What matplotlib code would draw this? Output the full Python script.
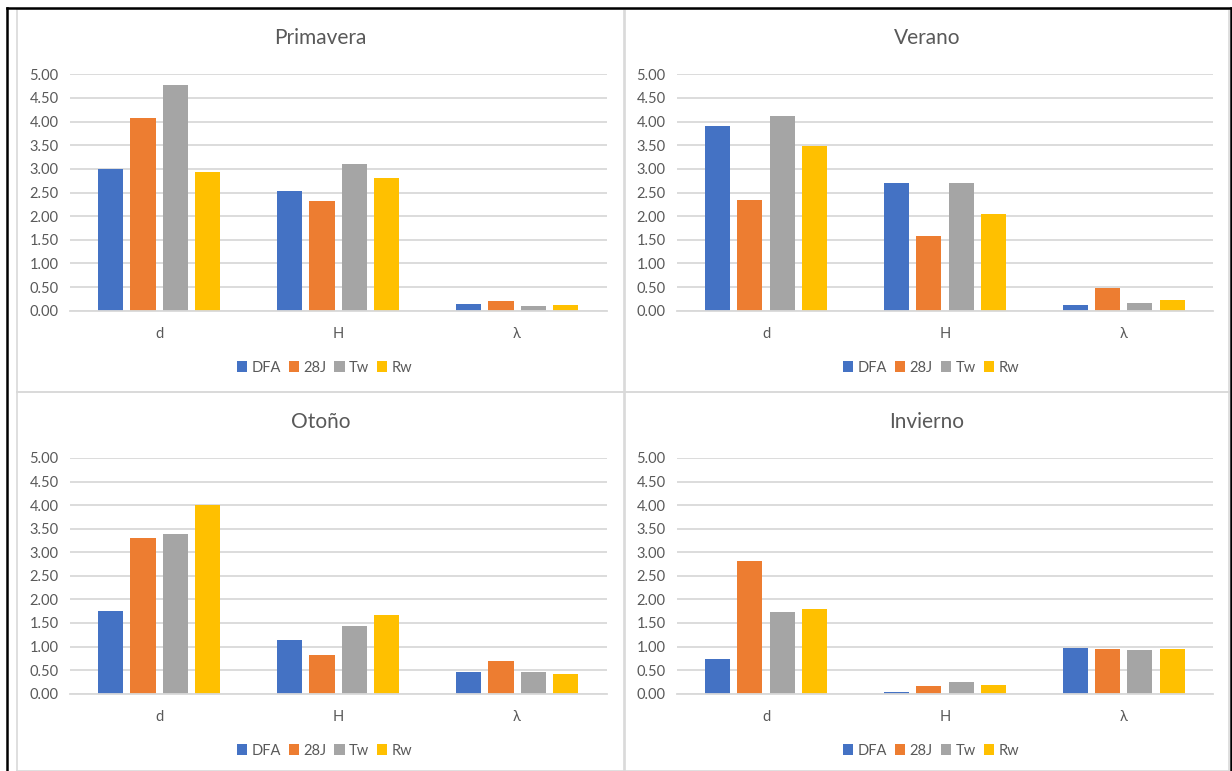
import numpy as np
import matplotlib
matplotlib.use('Agg')
import matplotlib.pyplot as plt
from matplotlib.lines import Line2D

plt.rcParams['font.family'] = ['Lato', 'DejaVu Sans']

# Datos por estación
categorias = ['d', 'H', 'λ']
series = ['DFA', '28J', 'Tw', 'Rw']
colores = ['#4472C4', '#ED7D31', '#A5A5A5', '#FFC000']

primavera = [[3.00, 2.53, 0.14],
             [4.08, 2.31, 0.21],
             [4.77, 3.10, 0.09],
             [2.93, 2.81, 0.13]]
verano = [[3.91, 2.70, 0.12],
          [2.34, 1.57, 0.47],
          [4.11, 2.70, 0.16],
          [3.49, 2.04, 0.23]]
otono = [[1.75, 1.14, 0.47],
         [3.30, 0.83, 0.70],
         [3.39, 1.43, 0.45],
         [4.00, 1.68, 0.42]]
invierno = [[0.74, 0.04, 0.98],
            [2.82, 0.16, 0.94],
            [1.73, 0.25, 0.93],
            [1.80, 0.19, 0.94]]

titulos = ['Primavera', 'Verano', 'Otoño', 'Invierno']
datos = [primavera, verano, otono, invierno]

W, H = 1232, 771
fig = plt.figure(figsize=(W / 100, H / 100), dpi=100)

gris_texto = '#595959'
gris_linea = '#D9D9D9'

# cajas de cada gráfico en pixeles: (x0, x1, y_top, y_bottom)
cajas = [(17, 624, 9, 392), (625, 1229, 9, 392),
         (17, 624, 392, 771), (625, 1229, 392, 771)]
# área de trazado en pixeles: (izq, der, arriba, abajo)
areas = [(69.6, 606.6, 74.3, 310.7), (676.6, 1213.3, 74.3, 310.7),
         (69.6, 606.6, 458, 693.7), (676.6, 1213.3, 458, 693.7)]

x = np.arange(len(categorias))
paso = 0.18
ancho = 0.14

for i in range(4):
    izq, der, arr, aba = areas[i]
    ax = fig.add_axes([izq / W, 1 - aba / H, (der - izq) / W, (aba - arr) / H])
    for j, s in enumerate(series):
        ax.bar(x + (j - 1.5) * paso, datos[i][j], width=ancho,
               color=colores[j], label=s, zorder=3)
    ax.set_xlim(-0.5, 2.5)
    ax.set_ylim(0, 5)
    ax.set_yticks(np.arange(0, 5.01, 0.5))
    ax.set_yticklabels([f'{v:.2f}' for v in np.arange(0, 5.01, 0.5)])
    ax.set_xticks(x)
    ax.set_xticklabels(categorias)
    ax.grid(axis='y', color=gris_linea, lw=1.3, zorder=0)
    for lado in ['top', 'right', 'left']:
        ax.spines[lado].set_visible(False)
    ax.spines['bottom'].set_color(gris_linea)
    ax.spines['bottom'].set_linewidth(1.3)
    ax.spines['bottom'].set_zorder(4)
    ax.tick_params(axis='both', length=0, labelsize=10.5, colors=gris_texto)
    ax.tick_params(axis='y', pad=8)
    ax.tick_params(axis='x', pad=12)

    x0, x1, y0, y1 = cajas[i]
    cx = (x0 + x1) / 2 / W
    fig.text(cx, 1 - (arr - 36) / H, titulos[i], ha='center', va='center',
             fontsize=15, color=gris_texto)
    ax.legend(loc='center', bbox_to_anchor=(cx + 4 / W, 1 - (aba + 57) / H),
              bbox_transform=fig.transFigure, ncol=4, frameon=False,
              fontsize=10.5, labelcolor=gris_texto, handlelength=0.7,
              handleheight=0.75, handletextpad=0.3, columnspacing=0.55)

# bordes de los gráficos
for x0, x1, y0, y1 in cajas:
    for xs, ys in [((x0, x1), (y0, y0)), ((x0, x1), (y1, y1)),
                   ((x0, x0), (y0, y1)), ((x1, x1), (y0, y1))]:
        fig.add_artist(Line2D([v / W for v in xs], [1 - v / H for v in ys],
                              color=gris_linea, lw=1.2))

# marco exterior negro
for xs, ys in [((6.5, 1231), (8, 8)), ((6.5, 6.5), (8, 771)),
               ((1231, 1231), (8, 771))]:
    fig.add_artist(Line2D([v / W for v in xs], [1 - v / H for v in ys],
                          color='black', lw=1.8))

fig.savefig('out.png', dpi=100, facecolor='white')
